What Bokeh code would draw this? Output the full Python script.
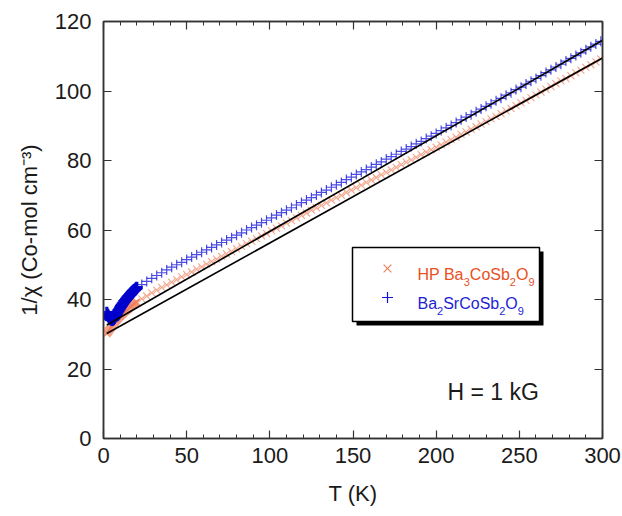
from bokeh.plotting import figure
from bokeh.models import Range1d, LinearAxis, SingleIntervalTicker, CustomJSTickFormatter
from bokeh.core.properties import value
from bokeh.embed import file_html
from bokeh.resources import INLINE

# ---------------- data ----------------
temps_K = [2, 2.5, 3, 3.5, 4, 4.5, 5, 5.5, 6, 6.5, 7, 7.5, 8, 8.5, 9, 9.5, 10, 10.5, 11, 11.5,
           12, 12.5, 13, 13.5, 14, 14.5, 15, 15.5, 16, 16.5, 17, 17.5, 18, 18.5, 19, 19.5, 20,
           23, 26, 29, 32, 35, 38, 41, 44, 47, 50, 53, 56, 59, 62, 65, 68, 71, 74, 77, 80,
           83, 86, 89, 92, 95, 98, 101, 104, 107, 110, 113, 116, 119, 122, 125, 128, 131, 134, 137, 140,
           143, 146, 149, 152, 155, 158, 161, 164, 167, 170, 173, 176, 179, 182, 185, 188, 191, 194, 197, 200,
           203, 206, 209, 212, 215, 218, 221, 224, 227, 230, 233, 236, 239, 242, 245, 248, 251, 254, 257, 260,
           263, 266, 269, 272, 275, 278, 281, 284, 287, 290, 293, 296, 299]

inv_chi_Ba2SrCoSb2O9 = [36.2, 35.6, 35.2, 34.8, 34.5, 34.3, 34.2, 34.2, 34.4, 34.7, 35.1, 35.5, 36.0, 36.4, 36.8, 37.2, 37.6, 38.0, 38.3, 38.7,
                        39.0, 39.4, 39.7, 40.0, 40.3, 40.6, 40.8, 41.1, 41.4, 41.7, 42.0, 42.3, 42.5, 42.7, 42.9, 43.2, 43.4,
                        44.3, 45.2, 46.1, 46.9, 47.7, 48.5, 49.3, 50.0, 50.7, 51.5, 52.2, 52.9, 53.6, 54.3, 55.0, 55.7, 56.4, 57.1, 57.8, 58.5,
                        59.2, 60.0, 60.7, 61.4, 62.1, 62.8, 63.5, 64.3, 65.0, 65.7, 66.4, 67.2, 67.9, 68.6, 69.3, 70.1, 70.8, 71.5, 72.3, 73.0,
                        73.7, 74.5, 75.2, 76.0, 76.7, 77.4, 78.1, 78.9, 79.6, 80.4, 81.1, 81.8, 82.6, 83.3, 84.0, 84.8, 85.5, 86.3, 87.0, 87.8,
                        88.6, 89.4, 90.1, 90.9, 91.7, 92.5, 93.2, 94.0, 94.8, 95.6, 96.3, 97.2, 97.9, 98.8, 99.5, 100.4, 101.1, 102.0, 102.8, 103.6,
                        104.4, 105.3, 106.1, 106.9, 107.7, 108.6, 109.4, 110.2, 111.0, 111.9, 112.7, 113.5, 114.3]

inv_chi_HP_Ba3CoSb2O9 = [30.2, 30.5, 30.9, 31.2, 31.6, 31.9, 32.2, 32.6, 32.9, 33.3, 33.6, 33.9, 34.1, 34.4, 34.7, 35.0, 35.2, 35.4, 35.6, 35.9,
                         36.1, 36.4, 36.6, 36.8, 37.0, 37.2, 37.4, 37.7, 37.9, 38.0, 38.2, 38.4, 38.6, 38.8, 39.0, 39.1, 39.3,
                         40.2, 41.0, 41.9, 42.7, 43.5, 44.2, 45.0, 45.7, 46.5, 47.2, 47.9, 48.7, 49.4, 50.2, 50.9, 51.6, 52.4, 53.1, 53.8, 54.6,
                         55.3, 56.1, 56.8, 57.5, 58.3, 59.0, 59.8, 60.5, 61.2, 62.0, 62.7, 63.5, 64.2, 64.9, 65.7, 66.4, 67.1, 67.8, 68.6, 69.3,
                         70.0, 70.8, 71.5, 72.2, 72.9, 73.7, 74.4, 75.1, 75.9, 76.6, 77.3, 78.0, 78.8, 79.5, 80.2, 80.9, 81.7, 82.4, 83.1, 83.8,
                         84.5, 85.3, 86.0, 86.7, 87.5, 88.2, 89.0, 89.7, 90.5, 91.2, 92.0, 92.7, 93.5, 94.3, 95.0, 95.8, 96.6, 97.3, 98.1, 98.9,
                         99.7, 100.5, 101.3, 102.1, 102.9, 103.6, 104.4, 105.2, 106.0, 106.8, 107.6, 108.4, 109.2]

fit_T = [2, 300]
fit_Ba2SrCoSb2O9 = [32.65, 114.6]
fit_HP_Ba3CoSb2O9 = [30.2, 109.5]

x_ticks_major = 50
y_ticks_major = 20
low_T_limit = 20

# ---------------- styling ----------------
FONT = "Liberation Sans"
TXT = "#1a1a1a"
AX = "#333333"
ORANGE_MK = "#EF805B"
ORANGE_TXT = "#E8501E"
BLUE_MK = "#1212DA"
BLUE_HOOK = "#0000CC"
BLUE_TXT = "#1E1ED2"

W, H = 622, 516
L, R, TOP, BOT = 103, 20, 21, 78

p = figure(width=W, height=H, output_backend="svg", toolbar_location=None,
           x_range=Range1d(0, 300), y_range=Range1d(0, 120),
           min_border_left=L, min_border_right=R, min_border_top=TOP, min_border_bottom=BOT)
p.xgrid.visible = False
p.ygrid.visible = False
p.outline_line_color = AX
p.outline_line_width = 1.5
p.background_fill_color = "white"
p.border_fill_color = "white"

FW = W - L - R
FH = H - TOP - BOT
def X(px):
    return (px - L) / FW * 300.0
def Y(py):
    return (H - BOT - py) / FH * 120.0

def style_axis(ax, show_labels=True):
    ax.axis_line_color = AX
    ax.axis_line_width = 1.5
    ax.major_tick_line_color = AX
    ax.minor_tick_line_color = AX
    ax.major_tick_line_width = 1.2
    ax.minor_tick_line_width = 1.0
    ax.major_tick_in = 8
    ax.major_tick_out = 0
    ax.minor_tick_in = 4
    ax.minor_tick_out = 0
    if show_labels:
        ax.major_label_text_font = FONT
        ax.major_label_text_font_size = "22px"
        ax.major_label_text_color = TXT
        ax.axis_label_text_font = FONT
        ax.axis_label_text_font_size = "22px"
        ax.axis_label_text_font_style = "normal"
        ax.axis_label_text_color = TXT
    else:
        ax.major_label_text_font_size = "0px"
        ax.major_label_standoff = 0
        ax.formatter = CustomJSTickFormatter(code="return ''")

p.xaxis.ticker = SingleIntervalTicker(interval=x_ticks_major, num_minor_ticks=5)
p.yaxis.ticker = SingleIntervalTicker(interval=y_ticks_major, num_minor_ticks=2)
style_axis(p.xaxis[0])
style_axis(p.yaxis[0])
p.yaxis.minor_tick_line_color = None
p.xaxis.axis_label = "T (K)"
p.yaxis.axis_label = "1/\u03c7 (Co-mol cm\u207b\u00b3)"
p.xaxis.major_label_standoff = 9
p.yaxis.major_label_standoff = 12
p.xaxis.axis_label_standoff = 15
p.yaxis.axis_label_standoff = 10

top_ax = LinearAxis(ticker=SingleIntervalTicker(interval=x_ticks_major, num_minor_ticks=5))
style_axis(top_ax, show_labels=False)
p.add_layout(top_ax, "above")
right_ax = LinearAxis(ticker=SingleIntervalTicker(interval=y_ticks_major, num_minor_ticks=2))
style_axis(right_ax, show_labels=False)
right_ax.minor_tick_line_color = None
p.add_layout(right_ax, "right")

# ---------------- data marks ----------------
lo = [i for i, t in enumerate(temps_K) if t <= low_T_limit]
hi = [i for i, t in enumerate(temps_K) if t > low_T_limit]

p.scatter([temps_K[i] for i in hi], [inv_chi_HP_Ba3CoSb2O9[i] for i in hi], marker="x", size=10,
          line_color=ORANGE_MK, line_alpha=0.7, line_width=1.1)
p.scatter([temps_K[i] for i in lo], [inv_chi_HP_Ba3CoSb2O9[i] for i in lo], marker="x", size=10,
          line_color=ORANGE_MK, line_alpha=0.8, line_width=1.4)
p.scatter([temps_K[i] for i in hi], [inv_chi_Ba2SrCoSb2O9[i] for i in hi], marker="cross", size=10,
          line_color=BLUE_MK, line_alpha=0.75, line_width=1.2)
p.scatter([temps_K[i] for i in lo], [inv_chi_Ba2SrCoSb2O9[i] for i in lo], marker="cross", size=12,
          line_color=BLUE_HOOK, line_alpha=0.95, line_width=3.2)
p.line(fit_T, fit_HP_Ba3CoSb2O9, line_color="black", line_width=1.6)
p.line(fit_T, fit_Ba2SrCoSb2O9, line_color="black", line_width=1.6)

# ---------------- legend (manual, with shadow) ----------------
p.quad(left=[X(356)], right=[X(543)], top=[Y(251)], bottom=[Y(325)],
       fill_color="black", line_color=None)
p.quad(left=[X(352)], right=[X(539)], top=[Y(247)], bottom=[Y(321)],
       fill_color="white", line_color="black", line_width=1.5)
p.scatter([X(387)], [Y(268)], marker="x", size=11, line_color=ORANGE_MK, line_width=1.2)
p.scatter([X(387)], [Y(297)], marker="cross", size=11, line_color=BLUE_MK, line_width=1.2)

ARIAL_W = {"H": 0.722, "P": 0.667, " ": 0.278, "B": 0.667, "a": 0.556, "C": 0.722,
           "o": 0.556, "S": 0.667, "b": 0.556, "O": 0.778, "r": 0.333}
def text_w(s, fs):
    return sum(ARIAL_W.get(c, 0.556) for c in s) * fs

def rich(parts, px0, base_py, color, fs=16, sub_fs=11, drop=7):
    x = px0
    for txt, is_sub in parts:
        f = sub_fs if is_sub else fs
        py = base_py + (drop if is_sub else 0)
        p.text([X(x)], [Y(py)], text=[txt], text_font=value(FONT), text_font_size=f"{f}px",
               text_color=color, text_baseline="alphabetic", text_align="left")
        x += text_w(txt, f)

rich([("HP Ba", False), ("3", True), ("CoSb", False), ("2", True), ("O", False), ("9", True)],
     417, 274, ORANGE_TXT)
rich([("Ba", False), ("2", True), ("SrCoSb", False), ("2", True), ("O", False), ("9", True)],
     417, 303, BLUE_TXT)

p.text([X(447)], [Y(391)], text=["H = 1 kG"], text_font=value(FONT), text_font_size="23px",
       text_color=TXT, text_baseline="alphabetic", text_align="left")

open("out.html", "w").write(file_html(p, INLINE))
